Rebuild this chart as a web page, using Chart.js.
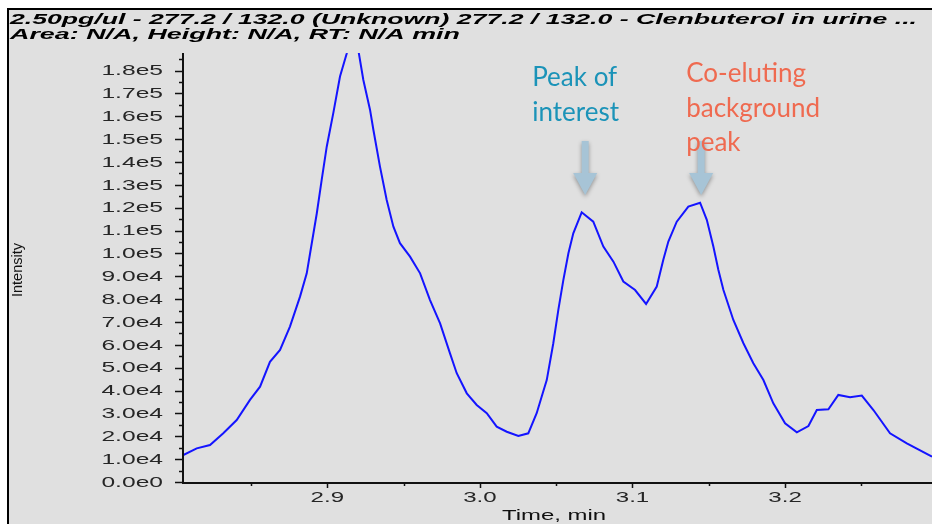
<!DOCTYPE html>
<html lang="en">
<head>
    <meta charset="UTF-8">
    <title>Clenbuterol in urine - XIC</title>
    <script src="https://cdn.jsdelivr.net/npm/chart.js"></script>
    <style>
        html, body {
            margin: 0;
            padding: 0;
            background: #ffffff;
        }
        .chart-box {
            position: relative;
            width: 932px;
            height: 524px;
        }
    </style>
</head>
<body>

<div class="chart-box">
    <canvas id="xicChart"></canvas>
</div>

<script>
    // Title lines of the trace
    const titleLines = [
        '2.50pg/ul - 277.2 / 132.0 (Unknown) 277.2 / 132.0 - Clenbuterol in urine ...',
        'Area: N/A, Height: N/A, RT: N/A min'
    ];

    // Retention time (min) and intensity
    const retentionTimes = [
        2.8056, 2.8144, 2.8231, 2.8318, 2.8406, 2.8493, 2.8559, 2.8624, 2.8690, 2.8755,
        2.8821, 2.8865, 2.8887, 2.8931, 2.8963, 2.8996, 2.9039, 2.9083, 2.9127, 2.9150,
        2.9190, 2.9203, 2.9236, 2.9280, 2.9302, 2.9345, 2.9389, 2.9433, 2.9476, 2.9542,
        2.9608, 2.9673, 2.9739, 2.9804, 2.9848, 2.9914, 2.9979, 3.0045, 3.0110, 3.0176,
        3.0252, 3.0317, 3.0372, 3.0416, 3.0438, 3.0481, 3.0514, 3.0547, 3.0580, 3.0612,
        3.0667, 3.0743, 3.0809, 3.0875, 3.0940, 3.1017, 3.1089, 3.1159, 3.1202, 3.1235,
        3.1290, 3.1366, 3.1443, 3.1487, 3.1530, 3.1563, 3.1596, 3.1661, 3.1727, 3.1792,
        3.1858, 3.1923, 3.2000, 3.2077, 3.2153, 3.2208, 3.2284, 3.2349, 3.2426, 3.2503,
        3.2579, 3.2688, 3.2798, 3.2963
    ];
    const intensities = [
        11800, 14700, 16200, 21300, 27100, 35900, 41700, 52600, 57800, 68000,
        81100, 91300, 100100, 117600, 132200, 146700, 161400, 177400, 187500, 195000,
        195000, 189000, 175900, 162800, 154000, 138000, 123400, 111700, 104500, 98600,
        91300, 79600, 69400, 56300, 47600, 38800, 33700, 30100, 24200, 22000,
        20100, 21300, 30100, 39800, 44600, 60700, 75300, 88400, 100100, 108800,
        118000, 113900, 103000, 96400, 87700, 84000, 77900, 85500, 97200, 105200,
        113900, 120500, 122200, 114700, 103000, 92800, 84000, 70900, 60700, 52000,
        44600, 34400, 25700, 21700, 24500, 31500, 31800, 38100, 37100, 37800,
        31500, 21300, 16900, 11100
    ];

    // Axis ticks
    const xTickValues = [2.9, 3.0, 3.1, 3.2];
    const xTickLabels = ['2.9', '3.0', '3.1', '3.2'];
    const yTickValues = [0, 10000, 20000, 30000, 40000, 50000, 60000, 70000, 80000, 90000,
        100000, 110000, 120000, 130000, 140000, 150000, 160000, 170000, 180000];
    const yTickLabels = ['0.0e0', '1.0e4', '2.0e4', '3.0e4', '4.0e4', '5.0e4', '6.0e4', '7.0e4', '8.0e4', '9.0e4',
        '1.0e5', '1.1e5', '1.2e5', '1.3e5', '1.4e5', '1.5e5', '1.6e5', '1.7e5', '1.8e5'];
    const xTitle = 'Time, min';
    const yTitle = 'Intensity';

    // Annotations (time of the arrow, text lines)
    const noteTimes = [3.069, 3.145];
    const noteLines = [['Peak of', 'interest'], ['Co-eluting', 'background', 'peak']];
    const noteColors = ['#1b93b8', '#ef6a50'];

    // draw text stretched horizontally (the original screenshot is stretched)
    function stretchText(ctx, text, x, y, sx, align) {
        ctx.save();
        ctx.translate(x, y);
        ctx.scale(sx, 1);
        ctx.textAlign = align;
        ctx.fillText(text, 0, 0);
        ctx.restore();
    }

    function fitText(ctx, text, x, y, width) {
        const w = ctx.measureText(text).width;
        stretchText(ctx, text, x, y, width / w, 'left');
    }

    const frame = {
        id: 'frame',
        beforeDraw(chart) {
            const ctx = chart.ctx;
            ctx.save();
            ctx.fillStyle = '#e0e0e0';
            ctx.fillRect(8, 9, chart.width - 8, chart.height - 9);
            ctx.fillStyle = '#000';
            ctx.fillRect(7, 8, chart.width - 7, 2);
            ctx.fillRect(7, 8, 2, chart.height - 8);

            // title
            ctx.fillStyle = '#000';
            ctx.textBaseline = 'alphabetic';
            ctx.font = 'italic bold 15px "Liberation Sans", Arial, sans-serif';
            fitText(ctx, titleLines[0], 10, 24, 907);
            fitText(ctx, titleLines[1], 10, 39, 450);
            ctx.restore();
        }
    };

    const axes = {
        id: 'axes',
        afterDatasetsDraw(chart) {
            const ctx = chart.ctx;
            const x = chart.scales.x;
            const y = chart.scales.y;
            const area = chart.chartArea;
            ctx.save();

            // axis lines
            ctx.strokeStyle = '#111';
            ctx.lineWidth = 2;
            ctx.beginPath();
            ctx.moveTo(area.left, area.top);
            ctx.lineTo(area.left, area.bottom + 1);
            ctx.lineTo(area.right, area.bottom + 1);
            ctx.stroke();

            // y ticks, major every 1e4, minor between
            ctx.lineWidth = 1.5;
            ctx.beginPath();
            for (let v = 0; v <= y.max; v += 5000) {
                const py = Math.round(y.getPixelForValue(v)) + 0.5;
                const len = (v % 10000 === 0) ? 8 : 4;
                ctx.moveTo(area.left - len, py);
                ctx.lineTo(area.left, py);
            }
            // x ticks, major every 0.1, minor between
            for (let k = Math.ceil(x.min / 0.05); k * 0.05 <= x.max; k++) {
                const px = Math.round(x.getPixelForValue(k * 0.05)) + 0.5;
                const len = (k % 2 === 0) ? 5 : 3;
                ctx.moveTo(px, area.bottom + 1);
                ctx.lineTo(px, area.bottom + 1 + len);
            }
            ctx.stroke();

            // tick labels
            ctx.fillStyle = '#262626';
            ctx.font = '15px "Liberation Sans", Arial, sans-serif';
            ctx.textBaseline = 'middle';
            yTickValues.forEach((v, i) => {
                stretchText(ctx, yTickLabels[i], area.left - 20, y.getPixelForValue(v) + 0.5, 1.64, 'right');
            });
            ctx.textBaseline = 'alphabetic';
            ctx.font = '14px "Liberation Sans", Arial, sans-serif';
            xTickValues.forEach((v, i) => {
                stretchText(ctx, xTickLabels[i], x.getPixelForValue(v), 502, 1.72, 'center');
            });

            // axis titles
            ctx.fillStyle = '#111';
            stretchText(ctx, xTitle, 554, 520, 1.71, 'center');

            ctx.save();
            ctx.translate(22, 270);
            ctx.rotate(-Math.PI / 2);
            ctx.font = '14px "Liberation Sans", Arial, sans-serif';
            stretchText(ctx, yTitle, 0, 0, 1.04, 'center');
            ctx.restore();

            ctx.restore();
        }
    };

    const notes = {
        id: 'notes',
        afterDraw(chart) {
            const ctx = chart.ctx;
            const x = chart.scales.x;
            ctx.save();
            noteTimes.forEach((t, i) => {
                const cx = x.getPixelForValue(t);
                // arrow
                ctx.save();
                ctx.shadowColor = 'rgba(0,0,0,0.35)';
                ctx.shadowBlur = 4;
                ctx.shadowOffsetY = 2;
                ctx.fillStyle = '#a7c4d6';
                ctx.beginPath();
                ctx.moveTo(cx - 3.5, 141);
                ctx.lineTo(cx + 3.5, 141);
                ctx.lineTo(cx + 3.5, 173);
                ctx.lineTo(cx + 12, 173);
                ctx.lineTo(cx, 195);
                ctx.lineTo(cx - 12, 173);
                ctx.lineTo(cx - 3.5, 173);
                ctx.closePath();
                ctx.fill();
                ctx.restore();

                // text
                ctx.fillStyle = noteColors[i];
                ctx.font = '26px Lato, "Open Sans", sans-serif';
                ctx.textAlign = 'left';
                ctx.textBaseline = 'alphabetic';
                const left = i === 0 ? cx - 53 : cx - 15;
                const base = i === 0 ? 86 : 82;
                noteLines[i].forEach((line, j) => {
                    ctx.fillText(line, left, base + j * 34.5);
                });
            });
            ctx.restore();
        }
    };

    const ctx = document.getElementById('xicChart').getContext('2d');
    const xicChart = new Chart(ctx, {
        type: 'line',
        data: {
            datasets: [{
                label: 'XIC 277.2 / 132.0',
                data: retentionTimes.map((t, i) => ({ x: t, y: intensities[i] })),
                borderColor: '#1414ff',
                borderWidth: 2,
                pointRadius: 0,
                tension: 0,
                fill: false
            }]
        },
        options: {
            responsive: true,
            maintainAspectRatio: false,
            animation: false,
            layout: {
                padding: { top: 53, left: 183, right: 0, bottom: 42 }
            },
            plugins: {
                legend: { display: false },
                tooltip: { enabled: false },
                title: { display: false }
            },
            scales: {
                x: {
                    type: 'linear',
                    min: 2.8054,
                    max: 3.2963,
                    display: false
                },
                y: {
                    type: 'linear',
                    min: 0,
                    max: 187700,
                    display: false
                }
            }
        },
        plugins: [frame, axes, notes]
    });
</script>

</body>
</html>
